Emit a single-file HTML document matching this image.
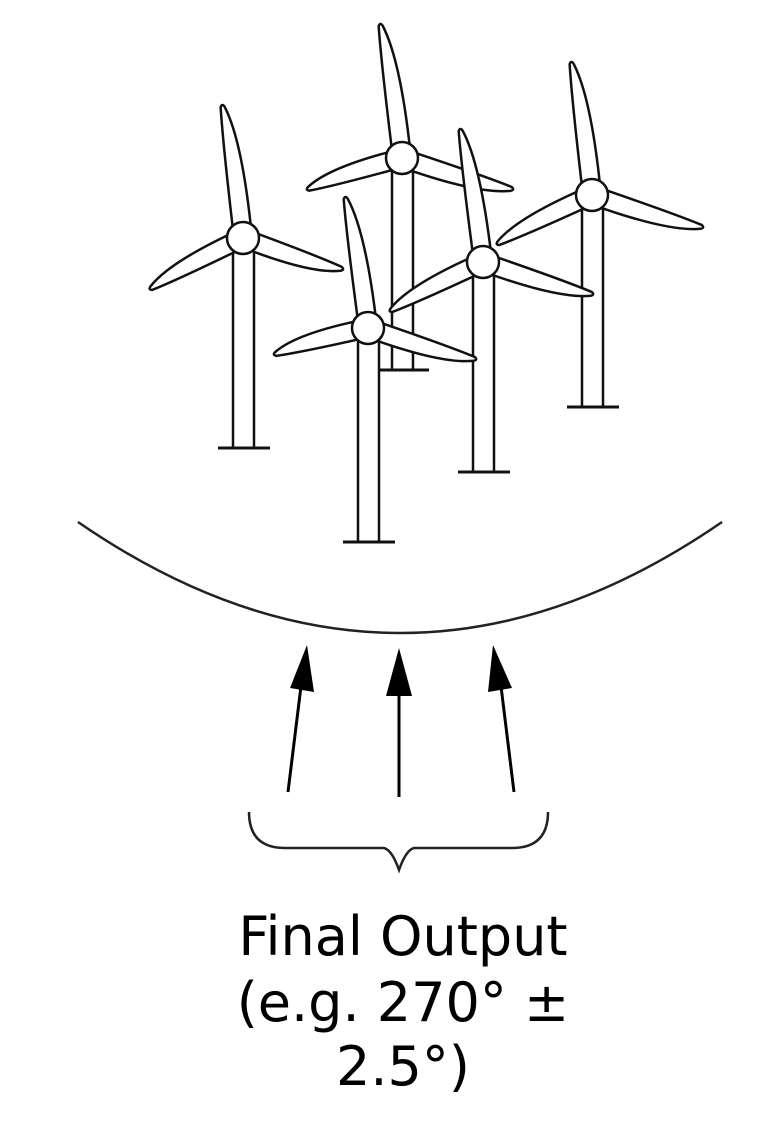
<!DOCTYPE html>
<html><head><meta charset="utf-8"><style>
html,body{margin:0;padding:0;background:#fff;}
svg{display:block;}
</style></head><body>
<svg id="d" width="762" height="1144" viewBox="0 0 762 1144" xmlns="http://www.w3.org/2000/svg">
<g id="turbines"></g>
<path d="M78,522 Q400,744 722,522" fill="none" stroke="#222" stroke-width="2.5"/>
<g stroke="#000" stroke-width="3" fill="#000">
<line x1="288" y1="792" x2="303" y2="670"/>
<polygon points="307,645 314,692 290,688" stroke="none"/>
<line x1="399" y1="797" x2="399" y2="672"/>
<polygon points="399,648 412,696 386,696" stroke="none"/>
<line x1="514" y1="792" x2="499" y2="670"/>
<polygon points="493,645 512,688 488,692" stroke="none"/>
</g>
<path d="M249,812 Q249,848 285,848 L384,848 Q392,850 399,870 Q406,850 414,848 L512,848 Q548,848 548,812" fill="none" stroke="#222" stroke-width="2.5"/>
<g font-family="'DejaVu Sans', sans-serif" font-size="54" text-anchor="middle" fill="#000">
<text x="403" y="955">Final Output</text>
<text x="403" y="1021">(e.g. 270° ±</text>
<text x="403" y="1085">2.5°)</text>
</g>
</svg>
<script>
var NS='http://www.w3.org/2000/svg';
var g=document.getElementById('turbines');
// [hubX, hubY, towerBottom, topTip, leftTip, rightTip]
var T=[
 [402,158,370,[380,22],[305,190],[515,190]],
 [243,238,448,[222,103],[148,290],[345,270]],
 [592,195,407,[571,60],[495,245],[705,228]],
 [483,262,472,[460,127],[388,312],[595,295]],
 [368,328,542,[345,195],[272,355],[478,360]]
];
function blade(cx,cy,tx,ty){
 var dx=tx-cx,dy=ty-cy,L=Math.hypot(dx,dy),ux=dx/L,uy=dy/L,px=-uy,py=ux,w=9;
 var b1=[cx+px*w,cy+py*w],b2=[cx-px*w,cy-py*w];
 var m=0.7;
 var c1=[cx+ux*L*m+px*w*1.6,cy+uy*L*m+py*w*1.6];
 var c2=[cx+ux*L*m-px*w*0.6,cy+uy*L*m-py*w*0.6];
 var t1=[tx-ux*4+px*2,ty-uy*4+py*2],t2=[tx-ux*4-px*2,ty-uy*4-py*2];
 return 'M'+b1+' Q'+c1+' '+t1+' Q'+tx+','+ty+' '+t2+' Q'+c2+' '+b2+' Z';
}
T.forEach(function(t,i){
 var tg=document.createElementNS(NS,'g');
 
 
 tg.setAttribute('stroke','#111');tg.setAttribute('stroke-width','2.5');tg.setAttribute('fill','#fff');
 var cx=t[0],cy=t[1];
 var tw=document.createElementNS(NS,'rect');
 
 
 tw.setAttribute('x',cx-10);tw.setAttribute('y',cy);tw.setAttribute('width',21);tw.setAttribute('height',t[2]-cy);
 tg.appendChild(tw);
 var bl=document.createElementNS(NS,'line');
 
 
 bl.setAttribute('x1',cx-25);bl.setAttribute('x2',cx+27);bl.setAttribute('y1',t[2]);bl.setAttribute('y2',t[2]);bl.setAttribute('stroke-width','3');
 tg.appendChild(bl);
 [t[3],t[4],t[5]].forEach(function(tip){
  var p=document.createElementNS(NS,'path');
  
  
  p.setAttribute('d',blade(cx,cy,tip[0],tip[1]));
  tg.appendChild(p);
 });
 var h=document.createElementNS(NS,'circle');
 
 
 h.setAttribute('cx',cx);h.setAttribute('cy',cy);h.setAttribute('r',16);
 tg.appendChild(h);
 g.appendChild(tg);
});
</script>
</body></html>
